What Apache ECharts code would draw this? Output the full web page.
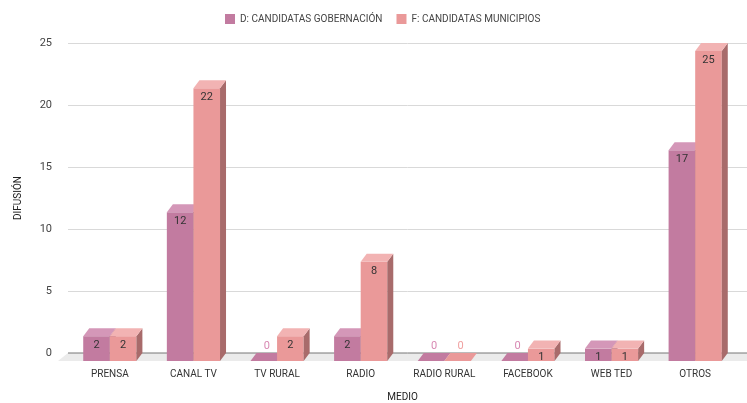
<!DOCTYPE html>
<html>
<head>
<meta charset="utf-8">
<script src="https://cdn.jsdelivr.net/npm/echarts@6/dist/echarts.min.js"></script>
<style>
  html, body { margin: 0; padding: 0; background: #fff; }
  #chart { width: 747px; height: 403px; }
</style>
</head>
<body>
<div id="chart"></div>
<script>
var myChart = echarts.init(document.getElementById('chart'));

// datos
var categorias = ['PRENSA', 'CANAL TV', 'TV RURAL', 'RADIO', 'RADIO RURAL', 'FACEBOOK', 'WEB TED', 'OTROS'];
var gobernacion = [2, 12, 0, 2, 0, 0, 1, 17];
var municipios = [2, 22, 2, 8, 0, 1, 1, 25];
var nombres = ['D: CANDIDATAS GOBERNACIÓN', 'F: CANDIDATAS MUNICIPIOS'];
var yTicks = [0, 5, 10, 15, 20, 25];

// colores: frente, arriba, lado, etiqueta cero
var estilos = [
  { front: '#c27ba0', top: '#d497b8', side: '#8e5a75', zero: '#d889b3' },
  { front: '#ea9999', top: '#f2b3b3', side: '#a86b6b', zero: '#f0a0a0' }
];

var DX = 6, DY = 8;
var FONT = 'Roboto, "Liberation Sans", Arial, sans-serif';

var toData = function (arr) {
  var res = [];
  for (var i = 0; i < arr.length; i++) {
    res.push([i, arr[i]]);
  }
  return res;
};

function barRenderer(idx) {
  return function (params, api) {
    var cat = api.value(0);
    var v = api.value(1);
    var base = api.coord([cat, 0]);
    var top = api.coord([cat, v]);
    var bw = api.size([1, 0])[0] * 0.318;
    var x0 = base[0] + (idx === 0 ? -bw : 0);
    var yb = base[1] + DY;
    var yt = top[1] + DY;
    var st = estilos[idx];
    var children = [];
    if (v > 0) {
      children.push({
        type: 'rect',
        shape: { x: x0, y: yt, width: bw, height: yb - yt },
        style: { fill: st.front }
      });
      children.push({
        type: 'polygon',
        shape: { points: [[x0 + bw, yt], [x0 + bw, yb], [x0 + bw + DX, yb - DY], [x0 + bw + DX, yt - DY]] },
        style: { fill: st.side }
      });
    }
    children.push({
      type: 'polygon',
      shape: { points: [[x0, yt], [x0 + bw, yt], [x0 + bw + DX, yt - DY], [x0 + DX, yt - DY]] },
      style: { fill: v > 0 ? st.top : st.front }
    });
    if (v > 0) {
      children.push({
        type: 'text',
        style: {
          x: x0 + bw / 2, y: yt + 9, text: String(v),
          align: 'center', verticalAlign: 'middle',
          fill: '#333', font: '11px ' + FONT
        }
      });
    } else {
      children.push({
        type: 'text',
        style: {
          x: x0 + bw / 2 + DX / 2, y: yt - DY - 7, text: '0',
          align: 'center', verticalAlign: 'middle',
          fill: st.zero, font: '11px ' + FONT
        }
      });
    }
    return { type: 'group', children: children };
  };
}

function floorRenderer(params, api) {
  var cs = params.coordSys;
  var yb = cs.y + cs.height;
  return {
    type: 'group',
    children: [
      {
        type: 'polygon',
        shape: { points: [[cs.x, yb], [cs.x + cs.width, yb], [cs.x + cs.width, yb + DY], [cs.x - 10, yb + DY]] },
        style: { fill: '#ebebeb' }
      },
      {
        type: 'line',
        shape: { x1: cs.x, y1: yb, x2: cs.x + cs.width, y2: yb },
        style: { stroke: '#777', lineWidth: 1 }
      }
    ]
  };
}

option = {
  backgroundColor: '#fff',
  textStyle: { fontFamily: FONT },
  legend: {
    top: 9,
    left: 220,
    itemWidth: 10,
    itemHeight: 10,
    itemGap: 14,
    icon: 'rect',
    textStyle: { fontSize: 10, color: '#444', fontFamily: FONT },
    data: nombres
  },
  grid: [
    { left: 68, right: 10, top: 43, bottom: 50, outerBoundsMode: 'none', containLabel: false },
    { left: 68, right: 0, top: 43, bottom: 50, outerBoundsMode: 'none', containLabel: false }
  ],
  xAxis: [
    {
      type: 'category',
      gridIndex: 0,
      data: categorias,
      axisLine: { show: false },
      axisTick: { show: false },
      axisLabel: { margin: 16, fontSize: 10, color: '#333', fontFamily: FONT },
      name: 'MEDIO',
      nameLocation: 'middle',
      nameGap: 39,
      nameTextStyle: { fontSize: 10, color: '#222', fontFamily: FONT }
    },
    {
      type: 'value',
      gridIndex: 1,
      min: 0, max: 1,
      show: false
    }
  ],
  yAxis: [
    {
      type: 'value',
      gridIndex: 0,
      min: 0, max: 25, interval: 5,
      show: false
    },
    {
      type: 'value',
      gridIndex: 1,
      min: yTicks[0], max: yTicks[yTicks.length - 1], interval: 5,
      axisLine: { show: false },
      axisTick: { show: false },
      axisLabel: { margin: 16, fontSize: 11, color: '#444', fontFamily: FONT },
      splitLine: { lineStyle: { color: '#d9d9d9' } },
      name: 'DIFUSIÓN',
      nameLocation: 'middle',
      nameGap: 45,
      nameTextStyle: { fontSize: 10, color: '#222', fontFamily: FONT }
    }
  ],
  series: [
    {
      type: 'custom',
      name: 'floor',
      xAxisIndex: 1,
      yAxisIndex: 1,
      data: [[0, 0]],
      renderItem: floorRenderer,
      silent: true,
      z: 1
    },
    {
      type: 'custom',
      name: nombres[0],
      xAxisIndex: 0,
      yAxisIndex: 0,
      itemStyle: { color: estilos[0].front },
      data: toData(gobernacion),
      renderItem: barRenderer(0),
      z: 3
    },
    {
      type: 'custom',
      name: nombres[1],
      xAxisIndex: 0,
      yAxisIndex: 0,
      itemStyle: { color: estilos[1].front },
      data: toData(municipios),
      renderItem: barRenderer(1),
      z: 3
    }
  ]
};

myChart.setOption(option);
</script>
</body>
</html>
